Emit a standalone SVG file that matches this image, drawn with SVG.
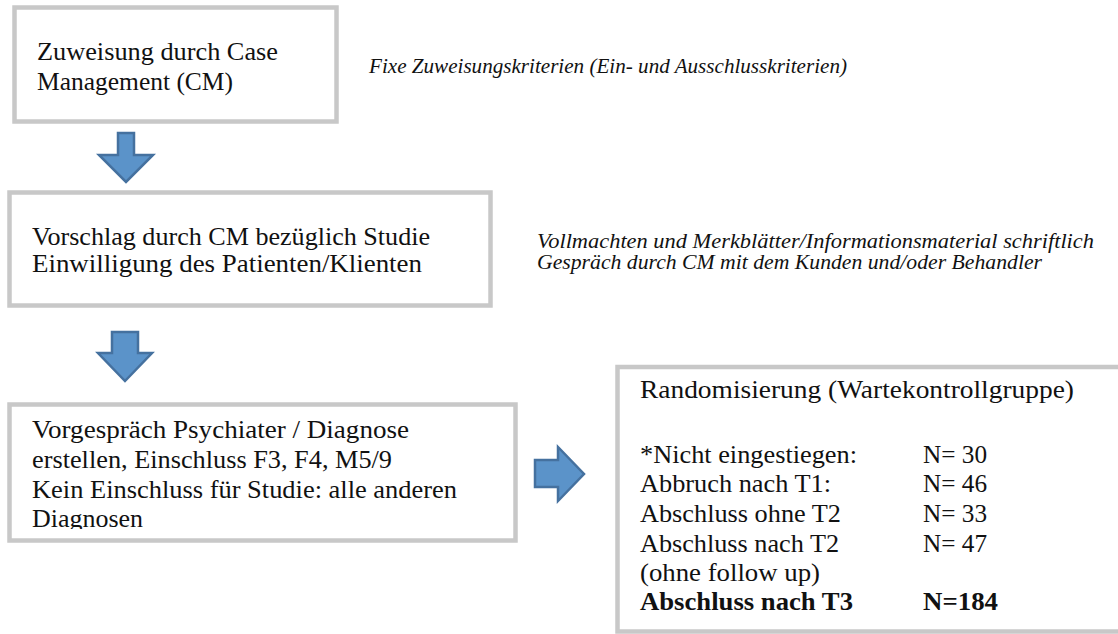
<svg xmlns="http://www.w3.org/2000/svg" width="1118" height="634" viewBox="0 0 1118 634">
<style>
.box{fill:#ffffff;stroke:#c8c8c8;stroke-width:4.5}
.t{font-family:"Liberation Serif","Times New Roman",serif;font-size:25px;fill:#111111}
.b{font-weight:bold}
.i{font-family:"Liberation Serif","Times New Roman",serif;font-size:20px;font-style:italic;fill:#111111}
.arr{fill:#5b93c9;stroke:#45719f;stroke-width:2.5;stroke-linejoin:miter}
</style>
<defs>
<clipPath id="clip3"><rect x="12" y="407" width="500" height="122"/></clipPath>
</defs>
<rect width="1118" height="634" fill="#ffffff"/>
<g id="node-zuweisung">
<rect class="box" x="14.5" y="7.5" width="322" height="114"/>
<text class="t" x="37" y="60" textLength="241" lengthAdjust="spacingAndGlyphs">Zuweisung durch Case</text>
<text class="t" x="37" y="90" textLength="196" lengthAdjust="spacingAndGlyphs">Management (CM)</text>
</g>
<g id="note-kriterien">
<text class="i" x="369" y="73" textLength="478" lengthAdjust="spacingAndGlyphs">Fixe Zuweisungskriterien (Ein- und Ausschlusskriterien)</text>
</g>
<g id="node-vorschlag">
<rect class="box" x="9.5" y="192.5" width="481" height="113"/>
<text class="t" x="32" y="245" textLength="398" lengthAdjust="spacingAndGlyphs">Vorschlag durch CM bezüglich Studie</text>
<text class="t" x="32" y="272" textLength="390" lengthAdjust="spacingAndGlyphs">Einwilligung des Patienten/Klienten</text>
</g>
<g id="note-vollmachten">
<text class="i" x="537" y="248" textLength="557" lengthAdjust="spacingAndGlyphs">Vollmachten und Merkblätter/Informationsmaterial schriftlich</text>
<text class="i" x="537" y="269" textLength="505" lengthAdjust="spacingAndGlyphs">Gespräch durch CM mit dem Kunden und/oder Behandler</text>
</g>
<g id="node-vorgespraech">
<rect class="box" x="9.5" y="404.5" width="506" height="136"/>
<g clip-path="url(#clip3)">
<text class="t" x="32" y="438" textLength="377" lengthAdjust="spacingAndGlyphs">Vorgespräch Psychiater / Diagnose</text>
<text class="t" x="32" y="468" textLength="360" lengthAdjust="spacingAndGlyphs">erstellen, Einschluss F3, F4, M5/9</text>
<text class="t" x="32" y="498" textLength="425" lengthAdjust="spacingAndGlyphs">Kein Einschluss für Studie: alle anderen</text>
<text class="t" x="32" y="527" textLength="111" lengthAdjust="spacingAndGlyphs">Diagnosen</text>
</g>
</g>
<g id="node-randomisierung">
<rect class="box" x="617.5" y="367" width="600" height="264.5"/>
<text class="t" x="640" y="398" textLength="434" lengthAdjust="spacingAndGlyphs">Randomisierung (Wartekontrollgruppe)</text>
<text class="t" x="640" y="463" textLength="217" lengthAdjust="spacingAndGlyphs">*Nicht eingestiegen:</text>
<text class="t" x="923" y="463" textLength="64" lengthAdjust="spacingAndGlyphs">N= 30</text>
<text class="t" x="640" y="492" textLength="191" lengthAdjust="spacingAndGlyphs">Abbruch nach T1:</text>
<text class="t" x="923" y="492" textLength="64" lengthAdjust="spacingAndGlyphs">N= 46</text>
<text class="t" x="640" y="522" textLength="201" lengthAdjust="spacingAndGlyphs">Abschluss ohne T2</text>
<text class="t" x="923" y="522" textLength="64" lengthAdjust="spacingAndGlyphs">N= 33</text>
<text class="t" x="640" y="552" textLength="199" lengthAdjust="spacingAndGlyphs">Abschluss nach T2</text>
<text class="t" x="923" y="552" textLength="64" lengthAdjust="spacingAndGlyphs">N= 47</text>
<text class="t" x="640" y="581" textLength="180" lengthAdjust="spacingAndGlyphs">(ohne follow up)</text>
<text class="t b" x="640" y="610" textLength="213" lengthAdjust="spacingAndGlyphs">Abschluss nach T3</text>
<text class="t b" x="923" y="610" textLength="75" lengthAdjust="spacingAndGlyphs">N=184</text>
</g>
<g id="connectors">
<path class="arr" d="M118,133 H134 V155 H153 L126,182 L99,155 H118 Z"/>
<path class="arr" d="M112,332 H138 V353 H152 L125,381 L98,353 H112 Z"/>
<path class="arr" d="M535,460 H558 V447 L584,474 L558,501 V487 H535 Z"/>
</g>
</svg>
